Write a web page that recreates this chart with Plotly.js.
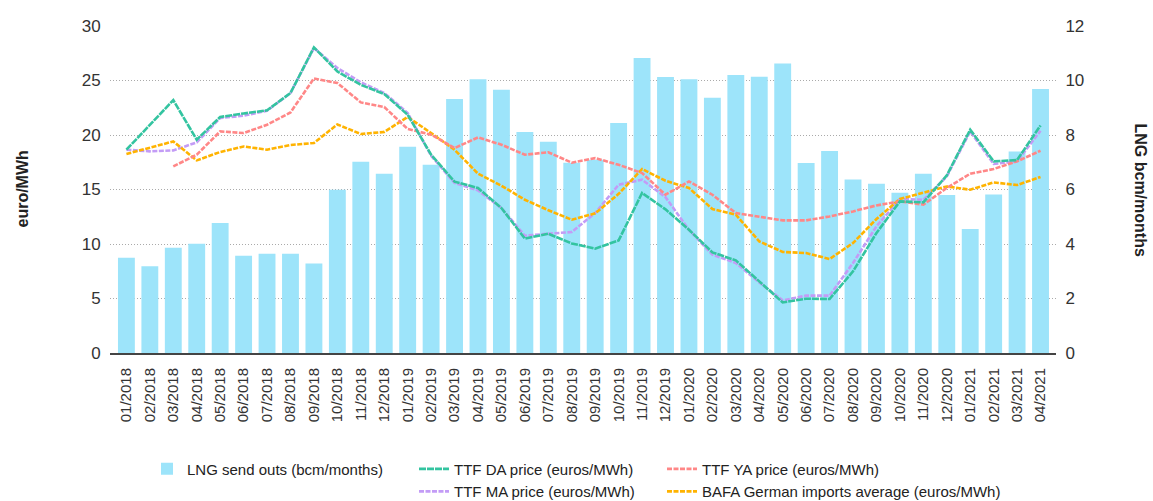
<!DOCTYPE html>
<html>
<head>
<meta charset="utf-8">
<script src="https://cdn.plot.ly/plotly-3.0.1.min.js"></script>
<style>
html,body{margin:0;padding:0;background:#fff;}
#chart{width:1153px;height:501px;}
</style>
</head>
<body>
<div id="chart"></div>
<script>
var months = ["01/2018","02/2018","03/2018","04/2018","05/2018","06/2018","07/2018","08/2018","09/2018","10/2018","11/2018","12/2018",
"01/2019","02/2019","03/2019","04/2019","05/2019","06/2019","07/2019","08/2019","09/2019","10/2019","11/2019","12/2019",
"01/2020","02/2020","03/2020","04/2020","05/2020","06/2020","07/2020","08/2020","09/2020","10/2020","11/2020","12/2020",
"01/2021","02/2021","03/2021","04/2021"];

var lngSendOuts = [3.50,3.18,3.86,4.01,4.77,3.57,3.64,3.64,3.28,5.99,7.02,6.58,7.57,6.91,9.32,10.05,9.66,8.11,7.75,6.98,
7.09,8.44,10.83,10.13,10.05,9.37,10.20,10.14,10.62,6.97,7.41,6.37,6.21,5.88,6.58,5.80,4.55,5.82,7.39,9.69];

var ttfDA = [18.65,20.9,23.2,19.57,21.65,21.98,22.26,23.85,28.04,25.83,24.6,23.76,21.86,18.19,15.72,15.14,13.3,10.5,10.94,10.05,
9.57,10.33,14.68,13.18,11.31,9.23,8.5,6.57,4.64,4.98,4.95,7.49,11.01,13.91,13.82,16.29,20.49,17.58,17.7,20.88];

var ttfMA = [18.65,18.5,18.59,19.32,21.56,21.77,22.23,23.85,27.98,26.15,24.83,23.85,22.02,18.1,15.6,14.92,13.3,10.76,10.94,11.1,
12.84,15.44,15.9,14.3,11.31,9.02,8.26,6.48,4.83,5.26,5.26,8.26,11.62,14.13,14.06,16.2,20.33,17.34,17.58,20.39];

var ttfYA = [null,null,17.12,18.19,20.33,20.18,20.94,22.07,25.19,24.77,22.99,22.57,20.55,20.03,18.8,19.78,19.11,18.19,18.42,17.46,
17.88,17.27,16.51,14.52,15.74,14.52,12.84,12.48,12.17,12.17,12.53,12.99,13.54,13.91,13.61,15.14,16.45,16.88,17.58,18.56];

var bafa = [18.26,18.86,19.41,17.67,18.44,18.95,18.65,19.08,19.27,20.97,20.09,20.28,21.65,20.18,18.65,16.45,15.35,14.06,13.1,12.23,
12.81,14.6,16.88,15.8,15.14,13.21,12.69,10.24,9.27,9.17,8.62,10.09,12.29,14.13,14.68,15.28,14.98,15.65,15.41,16.15];

var font = '"Liberation Sans", Arial, sans-serif';

function lineTrace(name, y, color, dash, legend, rank) {
  return {
    type: 'scatter', mode: 'lines', name: name, x: months, y: y, yaxis: 'y2',
    line: {color: color, width: 2.6, dash: dash},
    connectgaps: false, legend: legend, legendrank: rank
  };
}

var traces = [
  {type: 'bar', name: 'LNG send outs (bcm/months)', x: months, y: lngSendOuts, yaxis: 'y',
   marker: {color: '#9DE4FA'}, legend: 'legend', legendrank: 1},
  lineTrace('TTF MA price (euros/MWh)', ttfMA, '#C39CF6', '5px,1.5px', 'legend2', 2),
  lineTrace('BAFA German imports average (euros/MWh)', bafa, '#FFB300', '5px,1.5px', 'legend3', 2),
  lineTrace('TTF YA price (euros/MWh)', ttfYA, '#FF8787', '5px,1.5px', 'legend3', 1),
  lineTrace('TTF DA price (euros/MWh)', ttfDA, '#33C4A0', '7px,1px', 'legend2', 1)
];

var legendCommon = {
  xanchor: 'left', yanchor: 'top',
  orientation: 'v', bgcolor: 'rgba(0,0,0,0)', borderwidth: 0,
  font: {family: font, size: 15, color: '#222'}
};
var legTop = (353 - 452.6) / 327;

var layout = {
  width: 1153, height: 501,
  margin: {l: 110, r: 97, t: 26, b: 148, autoexpand: false},
  paper_bgcolor: '#fff', plot_bgcolor: '#fff',
  bargap: 0.28,
  showlegend: true,
  xaxis: {
    type: 'category', range: [-0.7, 39.66],
    tickangle: -90, tickfont: {family: font, size: 15, color: '#333'},
    showline: true, linecolor: '#444', linewidth: 2,
    ticks: 'outside', ticklen: 7, tickcolor: 'rgba(0,0,0,0)',
    showgrid: false, zeroline: false
  },
  yaxis: {
    side: 'right', range: [0, 12], tickvals: [0,2,4,6,8,10,12],
    tickfont: {family: font, size: 17, color: '#333'},
    showgrid: true, gridcolor: '#aaaaaa', gridwidth: 1, griddash: '1px,2px',
    zeroline: false, showline: false, ticks: 'outside', ticklen: 5, tickcolor: 'rgba(0,0,0,0)'
  },
  yaxis2: {
    overlaying: 'y', side: 'left', range: [0, 30], tickvals: [0,5,10,15,20,25,30],
    tickfont: {family: font, size: 17, color: '#333'},
    showgrid: false, zeroline: false, showline: false,
    ticks: 'outside', ticklen: 5, tickcolor: 'rgba(0,0,0,0)'
  },
  legend: Object.assign({}, legendCommon, {x: (147 - 110) / 946, y: legTop}),
  legend2: Object.assign({}, legendCommon, {x: (414 - 110) / 946, y: legTop}),
  legend3: Object.assign({}, legendCommon, {x: (662 - 110) / 946, y: legTop}),
  annotations: [
    {text: '<b>euro/MWh</b>', xref: 'paper', yref: 'paper', x: (22 - 110) / 946, y: 0.5,
     xanchor: 'center', yanchor: 'middle', textangle: -90, showarrow: false,
     font: {family: font, size: 16, color: '#222'}},
    {text: '<b>LNG bcm/months</b>', xref: 'paper', yref: 'paper', x: (1140 - 110) / 946, y: 0.5,
     xanchor: 'center', yanchor: 'middle', textangle: 90, showarrow: false,
     font: {family: font, size: 16, color: '#222'}}
  ]
};

Plotly.newPlot('chart', traces, layout, {displayModeBar: false});
</script>
</body>
</html>
